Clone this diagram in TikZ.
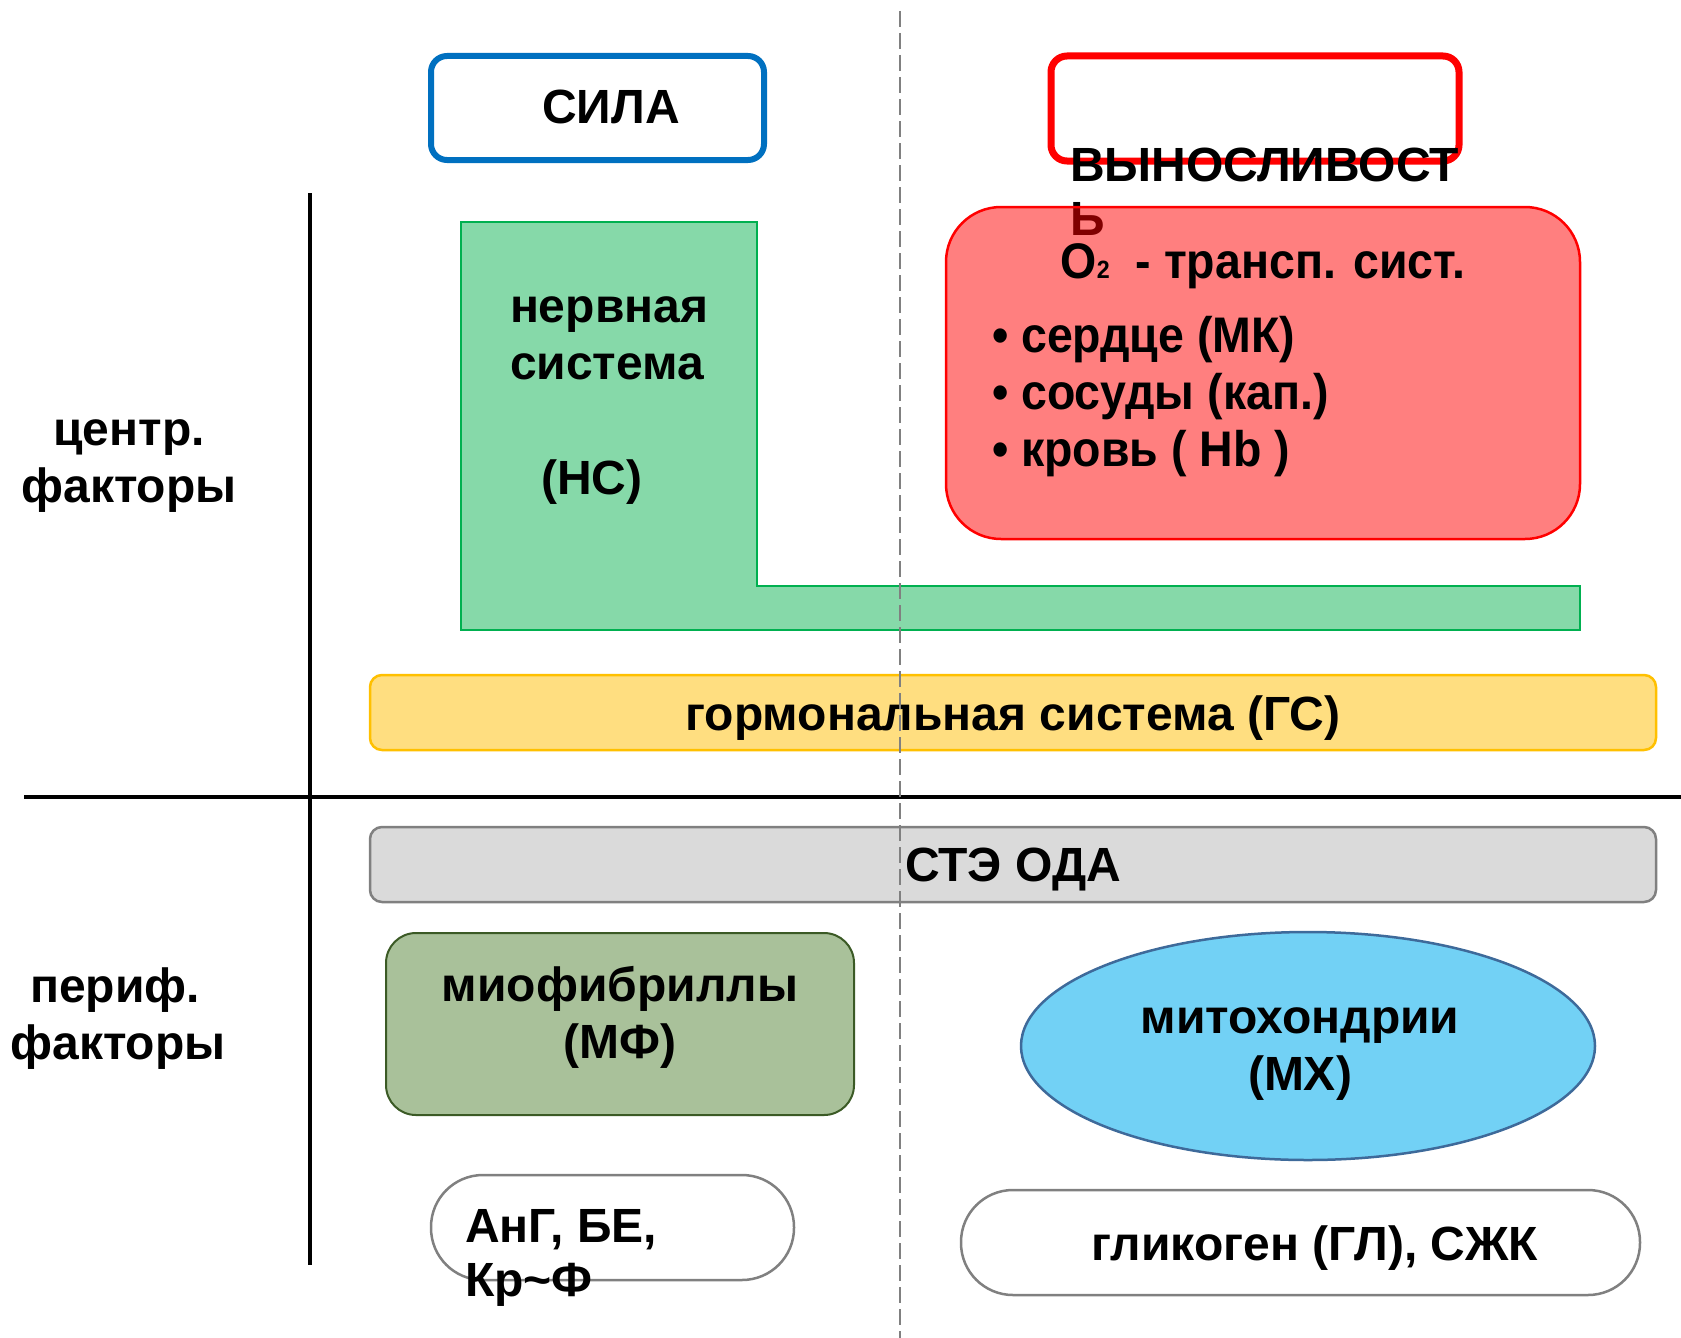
\documentclass[tikz,border=0pt]{standalone}
\usepackage{fontspec}
\setmainfont{Liberation Sans}
\newfontfamily\narrowfont[FakeStretch=0.93]{Liberation Sans}
\usetikzlibrary{shapes.geometric}
\definecolor{blueC}{HTML}{0070C0}
\definecolor{redC}{HTML}{FF0000}
\definecolor{greenS}{HTML}{00B050}
\definecolor{greenF}{HTML}{86D9A9}
\definecolor{yellowS}{HTML}{FFC000}
\definecolor{yellowF}{HTML}{FFDE80}
\definecolor{grayS}{HTML}{808080}
\definecolor{grayF}{HTML}{DADADA}
\definecolor{oliveF}{HTML}{A9C19A}
\definecolor{oliveS}{HTML}{3B5A25}
\definecolor{skyF}{HTML}{72D1F5}
\definecolor{skyS}{HTML}{3E6A9A}
\begin{document}
\begin{tikzpicture}[x=1pt,y=-1pt,
  box/.style={rectangle,inner sep=0pt,outer sep=0pt},
  t/.style={font=\bfseries\fontsize{48}{57}\selectfont,inner sep=0pt,outer sep=0pt},
  tn/.style={font=\narrowfont\bfseries\fontsize{50}{57}\selectfont,inner sep=0pt,outer sep=0pt},
  axis/.style={line width=4pt,black}]
\useasboundingbox (0,0) rectangle (1681,1338);
\fill[white] (0,0) rectangle (1681,1338);

% header boxes
\node[box,draw=blueC,line width=6pt,rounded corners=16pt,minimum width=333pt,minimum height=104pt] (silabox) at (597.5,108) {};
\node[t,anchor=base] (sila) at (611,123) {СИЛА};
\node[box,draw=redC,line width=7pt,rounded corners=16pt,minimum width=408pt,minimum height=105pt] (vynbox) at (1255,108.5) {};
\node[t,anchor=north west,align=left,font=\bfseries\fontsize{48}{54}\selectfont] (vyn) at (1070,148) {ВЫНОСЛИВОСТ\\Ь};

% axes
\coordinate (vtop) at (310,193);
\coordinate (vbot) at (310,1265);
\coordinate (hl) at (24,797);
\coordinate (hr) at (1681,797);
\draw[axis] (vtop) -- (vbot);
\draw[axis] (hl) -- (hr);

% left labels
\node[t,anchor=base] (c1) at (129,445) {центр.};
\node[t,anchor=base] (c2) at (129,502) {факторы};
\node[t,anchor=base] (p1) at (115,1002) {периф.};
\node[t,anchor=base] (p2) at (118,1059) {факторы};

% green L shape (nervous system)
\draw[draw=greenS,fill=greenF,line width=2.5pt] (461,222) -- (757,222) -- (757,586) -- (1580,586) -- (1580,630) -- (461,630) -- cycle;
\node[t,anchor=base west] (ns1) at (510,322) {нервная};
\node[t,anchor=base west] (ns2) at (510,379) {система};
\node[t,anchor=base] (ns3) at (592,494) {(НС)};

% O2 transport system
\node[box,draw=redC,fill=redC,fill opacity=0.5,line width=2.5pt,rounded corners=55pt,minimum width=634pt,minimum height=332pt] (o2box) at (1263,373) {};
\node[tn,anchor=base] (o2) at (1263,278) {O{\fontsize{25}{25}\selectfont 2}\ \ - трансп. сист.};
\node[tn,anchor=base west] (b1) at (992,352) {• сердце (МК)};
\node[tn,anchor=base west] (b2) at (992,409) {• сосуды (кап.)};
\node[tn,anchor=base west] (b3) at (992,466) {• кровь ( Hb )};

% hormonal system
\node[box,draw=yellowS,fill=yellowF,line width=2.5pt,rounded corners=12pt,minimum width=1286pt,minimum height=75pt] (gsbox) at (1013,712.5) {};
\node[t,anchor=base] (gs) at (1013,730) {гормональная система (ГС)};

% STE ODA
\node[box,draw=grayS,fill=grayF,line width=2.5pt,rounded corners=12pt,minimum width=1286pt,minimum height=75pt] (odabox) at (1013,864.5) {};
\node[t,anchor=base] (oda) at (1013,881) {СТЭ ОДА};

% myofibrils
\node[box,draw=oliveS,fill=oliveF,line width=2pt,rounded corners=30pt,minimum width=468pt,minimum height=182pt] (mfbox) at (620,1024) {};
\node[t,anchor=base] (mf1) at (620,1001) {миофибриллы};
\node[t,anchor=base] (mf2) at (620,1058) {(МФ)};

% mitochondria
\node[ellipse,draw=skyS,fill=skyF,line width=2.5pt,inner sep=0pt,minimum width=574pt,minimum height=228pt] (mxbox) at (1308,1046) {};
\node[t,anchor=base] (mx1) at (1300,1033) {митохондрии};
\node[t,anchor=base] (mx2) at (1300,1090) {(МХ)};

% bottom capsules
\node[box,draw=grayS,line width=2.5pt,rounded corners=52pt,minimum width=363pt,minimum height=105pt] (capL) at (612.5,1227.5) {};
\node[t,anchor=base west] (ang1) at (465,1242) {АнГ, БЕ,};
\node[t,anchor=base west] (ang2) at (465,1296) {Кр\textasciitilde Ф};
\node[box,draw=grayS,line width=2.5pt,rounded corners=52pt,minimum width=679pt,minimum height=105pt] (capR) at (1300.5,1242.5) {};
\node[t,anchor=base] (gl) at (1315,1260) {гликоген (ГЛ), СЖК};

% dashed divider
\coordinate (dtop) at (900,11);
\coordinate (dbot) at (900,1338);
\draw[grayS,line width=2pt,dash pattern=on 16pt off 6pt] (dtop) -- (dbot);
\end{tikzpicture}
\end{document}
